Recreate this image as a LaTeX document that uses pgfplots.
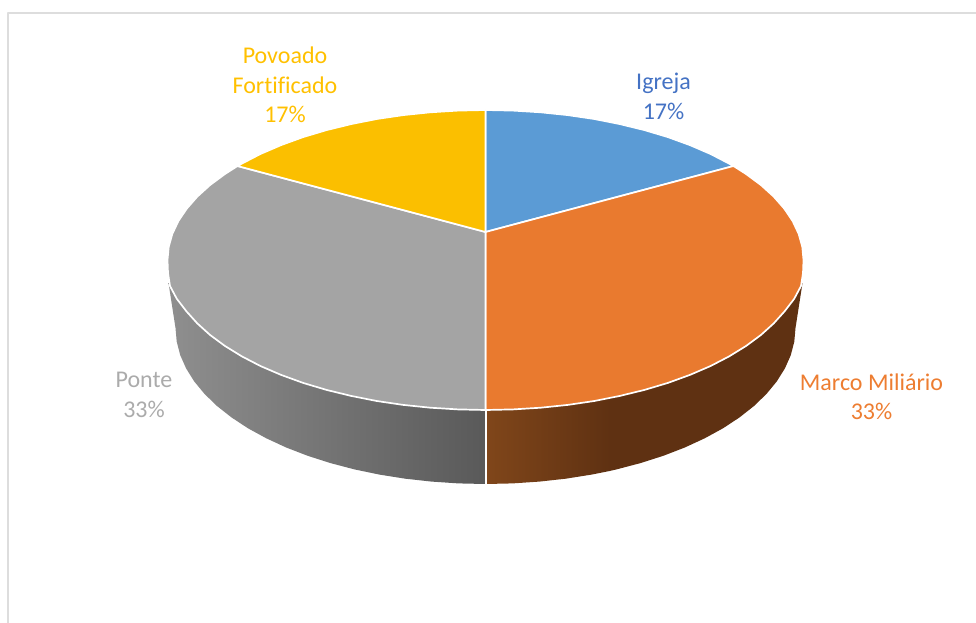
\documentclass[border=0pt]{standalone}
\usepackage{pgfplots}
\pgfplotsset{compat=1.18}
\usepackage{fontspec}
\setmainfont[Ligatures=NoCommon]{Carlito}
\definecolor{igreja}{HTML}{5B9BD5}
\definecolor{marco}{HTML}{E97A2F}
\definecolor{ponte}{HTML}{A4A4A4}
\definecolor{povoado}{HTML}{FBBF00}
\definecolor{igrejatxt}{HTML}{4472C4}
\definecolor{marcotxt}{HTML}{ED7D31}
\definecolor{pontetxt}{HTML}{ABABAB}
\definecolor{povoadotxt}{HTML}{FFC000}
\definecolor{frameline}{HTML}{DDDDDD}
\begin{document}
\begin{tikzpicture}
\useasboundingbox (0,0) rectangle (976pt,623pt);
\begin{axis}[
  anchor=south west, at={(0,0)},
  scale only axis, width=976pt, height=623pt,
  xmin=0, xmax=976, ymin=0, ymax=623, y dir=reverse,
  hide axis,
  every axis plot/.append style={line join=round},
]
% chart frame, open at the right and at the bottom
\addplot[frameline, line width=2pt] coordinates {(8,623) (8,13.5) (976,13.5)};

% rim of the disc: Ponte
\addplot[draw=none, left color=black!44, right color=black!65] coordinates {
  (485.5,300) (168.5,283) (175.5,328) (176.7,341.6) (180.2,355.1) (186.1,368.4) (194.2,381.4)
  (204.5,393.9) (217,406) (231.6,417.5) (248,428.3) (266.3,438.3) (286.2,447.5) (307.7,455.8)
  (330.5,463.1) (354.5,469.4) (379.5,474.6) (405.3,478.7) (431.7,481.6) (458.5,483.4) (485.5,484)
} -- cycle;
% rim of the disc: Marco Miliário, shaded part and flat part
\addplot[draw=none, left color={rgb,255:red,128;green,70;blue,26}, right color={rgb,255:red,95;green,49;blue,18}] coordinates {
  (485.5,300) (610,300) (610,470.9) (591.5,474.6) (565.7,478.7) (539.3,481.6) (512.5,483.4) (485.5,484)
} -- cycle;
\addplot[draw=none, fill={rgb,255:red,95;green,49;blue,18}] coordinates {
  (609.5,300) (802.5,283) (795.5,328) (794.3,341.6) (790.8,355.1) (784.9,368.4) (776.8,381.4)
  (766.5,393.9) (754,406) (739.4,417.5) (723,428.3) (704.7,438.3) (684.8,447.5) (663.3,455.8)
  (640.5,463.1) (616.5,469.4) (609.5,471)
} -- cycle;
\addplot[white, line width=2pt] coordinates {(485.5,408) (485.5,485)};

% top face of the disc
\addplot[fill=igreja, draw=white, line width=1.7pt] coordinates {
  (485.5,232) (485.5,110) (513.2,110.6) (540.7,112.3) (567.8,115.1) (594.3,119) (619.9,124.1)
  (644.5,130.1) (667.9,137.1) (689.9,145.1) (710.4,153.9) (729.1,163.6) (733.5,166)
} -- cycle;
\addplot[fill=marco, draw=white, line width=1.7pt] coordinates {
  (485.5,232) (733.5,166) (746,174) (760.9,185) (773.7,196.6) (784.3,208.7) (792.7,221.2)
  (798.7,234) (802.3,246.9) (803.5,260) (803,273.1) (801,286) (794.2,298.8) (784.6,311.3)
  (773.7,323.4) (760.9,335) (746,346) (729.1,356.4) (710.4,366.1) (689.9,374.9) (667.9,382.9)
  (644.5,389.9) (619.9,395.9) (594.3,401) (567.8,404.9) (540.7,407.7) (513.2,409.4) (485.5,410)
} -- cycle;
\addplot[fill=ponte, draw=white, line width=1.7pt] coordinates {
  (485.5,232) (485.5,410) (457.8,409.4) (430.3,407.7) (403.2,404.9) (376.7,401) (351.1,395.9)
  (326.5,389.9) (303.1,382.9) (281.1,374.9) (260.6,366.1) (241.9,356.4) (225,346) (210.1,335)
  (197.3,323.4) (186.4,311.3) (176.8,298.8) (170,286) (168,273.1) (167.5,260) (168.7,246.9)
  (172.3,234) (178.3,221.2) (186.7,208.7) (197.3,196.6) (210.1,185) (225,174) (237.5,166)
} -- cycle;
\addplot[fill=povoado, draw=white, line width=1.7pt] coordinates {
  (485.5,232) (237.5,166) (241.9,163.6) (260.6,153.9) (281.1,145.1) (303.1,137.1) (326.5,130.1)
  (351.1,124.1) (376.7,119) (403.2,115.1) (430.3,112.3) (457.8,110.6) (485.5,110)
} -- cycle;

% data labels
\tikzset{lbl/.style={align=center, font=\fontsize{24}{29.5}\selectfont, inner sep=0pt}}
\node[lbl, text=igrejatxt] at (axis cs:663.5,96.5) {Igreja\\17\%};
\node[lbl, text=marcotxt] at (axis cs:871.5,397) {Marco Miliário\\33\%};
\node[lbl, text=pontetxt] at (axis cs:144,395) {Ponte\\33\%};
\node[lbl, text=povoadotxt] at (axis cs:285,85) {Povoado\\Fortificado\\17\%};
\end{axis}
\end{tikzpicture}
\end{document}
